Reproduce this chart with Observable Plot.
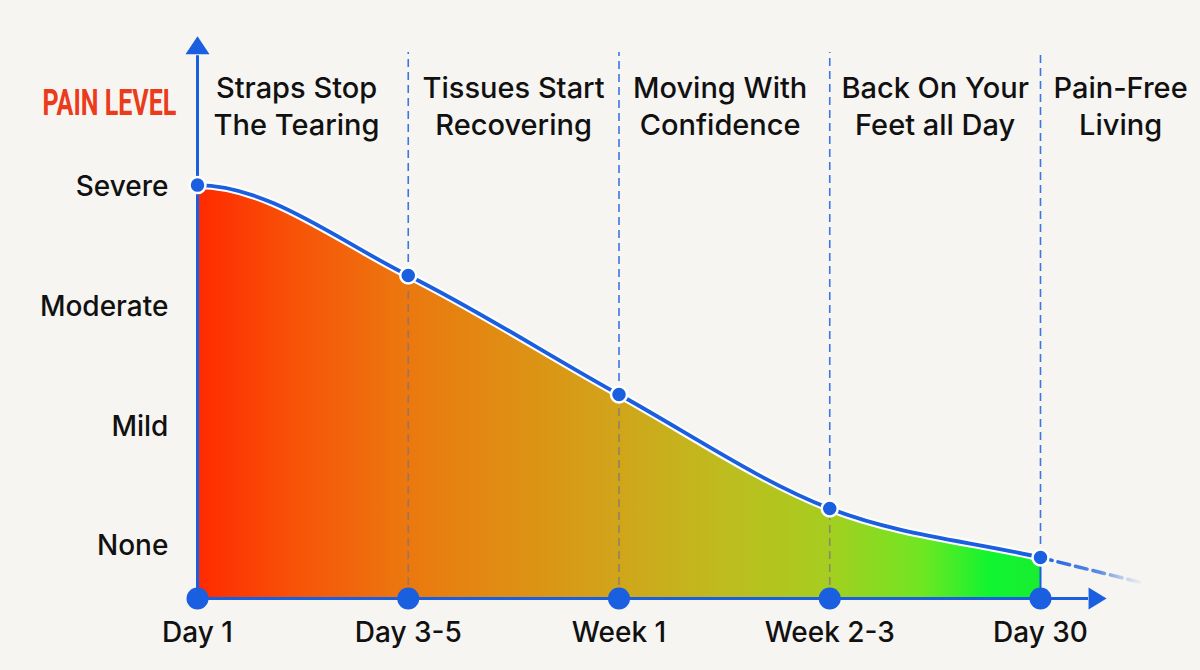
<!DOCTYPE html>
<html>
<head>
<meta charset="utf-8">
<script src="https://cdn.jsdelivr.net/npm/d3@7"></script>
<script src="https://cdn.jsdelivr.net/npm/@observablehq/plot@0.6"></script>
<style>
  html, body { margin: 0; padding: 0; background: #f7f5f2; }
  #chart svg { display: block; background: #f7f5f2; }
</style>
</head>
<body>
<div id="chart"></div>
<script>
// ---- data ----
const stages = ["Day 1", "Day 3-5", "Week 1", "Week 2-3", "Day 30"];
const painValues = [3.02, 2.265, 1.27, 0.318, -0.092];
const levelNames = ["None", "Mild", "Moderate", "Severe"];
const levelValues = [0, 1, 2, 3];
const phaseLabels = ["Straps Stop\nThe Tearing", "Tissues Start\nRecovering", "Moving With\nConfidence", "Back On Your\nFeet all Day", "Pain-Free\nLiving"];
const phaseCenters = [0.47, 1.5, 2.48, 3.5, 4.38];
const trendX = [4, 4.475];
const trendY = [-0.092, -0.30];

// ---- layout constants ----
const BASE = -0.435;    // x-axis baseline value
const TOP = 4.128;      // top of dashed guides
const AXIS_TOP = 4.10;  // top of y-axis line
const BLUE = "#1a5fe0";

const pts = stages.map((s, i) => ({i, stage: s, v: painValues[i]}));
const levels = levelNames.map((n, i) => ({name: n, v: levelValues[i]}));
const phases = phaseLabels.map((t, i) => ({t, x: phaseCenters[i]}));
const trend = trendX.map((x, i) => ({x, y: trendY[i]}));

const upTri = {draw(ctx) { ctx.moveTo(0, -10); ctx.lineTo(12, 8); ctx.lineTo(-12, 8); ctx.closePath(); }};
const rightTri = {draw(ctx) { ctx.moveTo(10, 0); ctx.lineTo(-8, 11); ctx.lineTo(-8, -11); ctx.closePath(); }};

// smooth curve through the points, starting flat (cubic Hermite)
class FlatStartCurve {
  constructor(context) { this._context = context; }
  areaStart() { this._line = 0; }
  areaEnd() { this._line = NaN; }
  lineStart() { this._x = []; this._y = []; }
  point(x, y) { this._x.push(+x); this._y.push(+y); }
  lineEnd() {
    const xs = this._x, ys = this._y, n = xs.length, c = this._context;
    if (n) {
      if (this._line) c.lineTo(xs[0], ys[0]); else c.moveTo(xs[0], ys[0]);
      const s = [];
      for (let k = 0; k < n - 1; ++k) s.push((ys[k + 1] - ys[k]) / (xs[k + 1] - xs[k] || 1));
      const m = xs.map((_, k) => k === 0 ? 0 : k === n - 1 ? s[n - 2] : (s[k - 1] + s[k]) / 2);
      for (let k = 0; k < n - 1; ++k) {
        const h = (xs[k + 1] - xs[k]) / 3;
        c.bezierCurveTo(xs[k] + h, ys[k] + h * m[k], xs[k + 1] - h, ys[k + 1] - h * m[k + 1], xs[k + 1], ys[k + 1]);
      }
    }
    if (this._line || (this._line !== 0 && n === 1)) c.closePath();
    this._line = 1 - this._line;
  }
}
const flatStart = (context) => new FlatStartCurve(context);

const font = "Inter, 'Open Sans', sans-serif";

const chart = Plot.plot({
  width: 1200,
  height: 670,
  margin: 0,
  style: {background: "#f7f5f2", fontFamily: font, color: "#111"},
  x: {type: "linear", domain: [0, 4], range: [197, 1040], axis: null},
  y: {type: "linear", domain: [0, 3], range: [546, 187], axis: null},
  marks: [
    // gradient fill
    Plot.areaY(pts, {x: "i", y1: () => BASE, y2: "v", curve: flatStart, fill: "url(#painGrad)"}),
    // guides inside fill (gray dashed)
    Plot.ruleX(pts.slice(1, 4), {x: "i", y1: () => BASE, y2: "v", stroke: "#7d6e86", strokeOpacity: 0.7, strokeWidth: 1.6, strokeDasharray: "8,5"}),
    // guides above the curve (blue dashed)
    Plot.ruleX(pts.slice(1), {x: "i", y1: "v", y2: () => TOP, stroke: BLUE, strokeOpacity: 0.85, strokeWidth: 1.6, strokeDasharray: "8,5"}),
    // right edge of fill
    Plot.ruleX(pts.slice(4), {x: "i", y1: () => BASE, y2: "v", stroke: BLUE, strokeWidth: 2}),
    // axes
    Plot.ruleX([0], {x: d => d, y1: () => BASE, y2: () => AXIS_TOP, stroke: BLUE, strokeWidth: 3}),
    Plot.ruleY([BASE], {y: d => d, x1: () => 0, x2: () => 4.228, stroke: BLUE, strokeWidth: 3}),
    Plot.dot([0], {x: () => 0, y: () => 4.18, symbol: upTri, r: 10, fill: BLUE, stroke: null}),
    Plot.dot([0], {x: () => 4.266, y: () => BASE, symbol: rightTri, r: 10, fill: BLUE, stroke: null}),
    // faded trend continuation
    Plot.line(trend, {x: "x", y: "y", stroke: "url(#fadeGrad)", strokeWidth: 3.5, strokeDasharray: "12,6"}),
    // curve
    Plot.line(pts, {x: "i", y: "v", curve: flatStart, stroke: "#ffffff", strokeWidth: 8}),
    Plot.line(pts, {x: "i", y: "v", curve: flatStart, stroke: BLUE, strokeWidth: 3.8}),
    // dots
    Plot.dot(pts, {x: "i", y: () => BASE, r: 11, fill: BLUE, stroke: null}),
    Plot.dot(pts, {x: "i", y: "v", r: 8, fill: BLUE, stroke: "#ffffff", strokeWidth: 2.5}),
    // labels
    Plot.text(levels, {x: () => -0.138, y: "v", text: "name", textAnchor: "end", fontSize: 28, fontWeight: 500, fill: "#111", fontFamily: font}),
    Plot.text(pts, {x: "i", y: () => -0.727, text: "stage", fontSize: 28, fontWeight: 500, fill: "#111", fontFamily: font}),
    Plot.text(phases, {x: "x", y: () => 3.69, text: "t", fontSize: 29, fontWeight: 500, lineHeight: 1.25, fill: "#111", fontFamily: font}),
    Plot.text(["PAIN LEVEL"], {x: () => -0.10, y: () => 3.70, text: d => d, textAnchor: "end", fontSize: 36, fontWeight: "bold",
      fill: "#ea3c1a", fontFamily: "'Roboto', sans-serif", className: "pain-title"})
  ]
});

// condense the axis title to the reference's narrow look
d3.select(chart).selectAll(".pain-title text").attr("textLength", 134).attr("lengthAdjust", "spacingAndGlyphs");

// gradient definitions (positions from the x scale)
const sx = chart.scale("x");
const x0 = sx.apply(0), x1 = sx.apply(4);
const svg = d3.select(chart);
const defs = svg.insert("defs", ":first-child");
const g = defs.append("linearGradient").attr("id", "painGrad").attr("gradientUnits", "userSpaceOnUse")
  .attr("x1", x0).attr("x2", x1).attr("y1", 0).attr("y2", 0);
[[0, "#ff2a00"], [0.12, "#f75408"], [0.24, "#ec760e"], [0.37, "#e08e13"], [0.49, "#d2a31a"],
 [0.62, "#bfbb1e"], [0.74, "#a8cc20"], [0.86, "#70e622"], [0.94, "#10f530"], [1, "#18ee30"]]
  .forEach(([o, c]) => g.append("stop").attr("offset", o).attr("stop-color", c));
const f = defs.append("linearGradient").attr("id", "fadeGrad").attr("gradientUnits", "userSpaceOnUse")
  .attr("x1", sx.apply(trendX[0])).attr("x2", sx.apply(trendX[1])).attr("y1", 0).attr("y2", 0);
f.append("stop").attr("offset", 0).attr("stop-color", BLUE).attr("stop-opacity", 1);
f.append("stop").attr("offset", 0.6).attr("stop-color", BLUE).attr("stop-opacity", 0.7);
f.append("stop").attr("offset", 1).attr("stop-color", "#9ab4ee").attr("stop-opacity", 0.15);

document.getElementById("chart").appendChild(chart);
</script>
</body>
</html>
